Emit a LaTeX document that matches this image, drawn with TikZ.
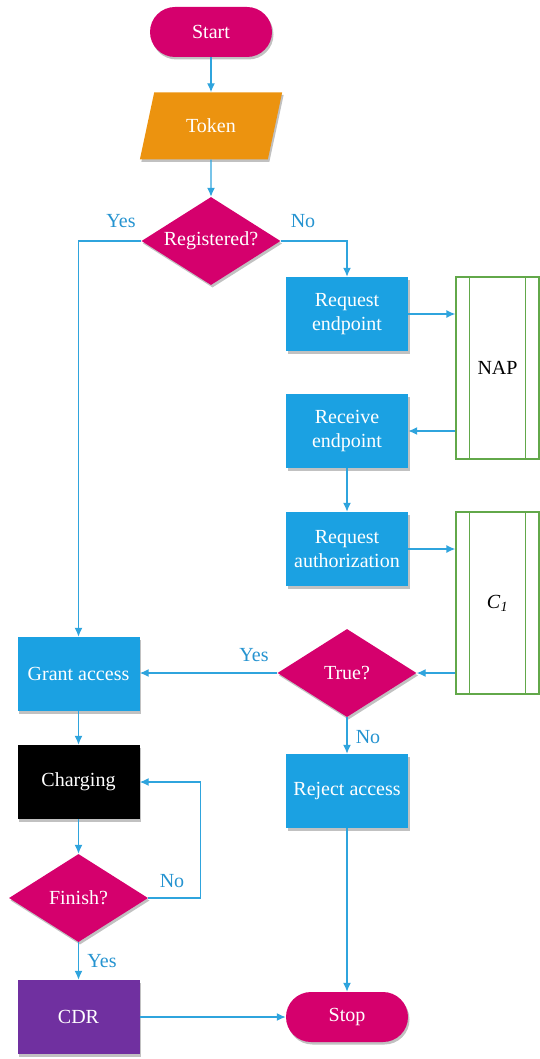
\documentclass[tikz,border=0pt]{standalone}
\usepackage{fontspec}
\setmainfont{Liberation Serif}
\usetikzlibrary{shapes.geometric,arrows.meta,shadows}

\definecolor{flowmag}{HTML}{D5006D}
\definecolor{flowblue}{HTML}{1BA1E2}
\definecolor{floworange}{HTML}{EC930F}
\definecolor{flowpurple}{HTML}{7030A0}
\definecolor{flowgreen}{HTML}{62A84A}
\definecolor{flowline}{HTML}{2FA4DD}
\definecolor{flowlabel}{HTML}{2593D0}

\begin{document}
\begin{tikzpicture}[x=1pt,y=-1pt,
  every node/.style={font=\fontsize{20}{24}\selectfont},
  shade/.style={drop shadow={shadow xshift=1.5pt,shadow yshift=-2.5pt,opacity=0.35,fill=black!70}},
  terminal/.style={rectangle, rounded corners=25pt, fill=flowmag, text=white,
    minimum width=122pt, minimum height=50pt, shade},
  procbox/.style={rectangle, fill=flowblue, text=white, minimum width=122pt,
    minimum height=74pt, align=center, inner sep=2pt, shade},
  decision/.style={diamond, fill=flowmag, text=white, aspect=1.58, inner sep=0pt,
    minimum width=139pt, minimum height=88pt, shade},
  iobox/.style={trapezium, trapezium left angle=66, trapezium right angle=114,
    trapezium stretches=true, fill=floworange, text=white, minimum width=143pt,
    minimum height=67pt, inner sep=0pt, shade},
  predef/.style={rectangle, draw=flowgreen, line width=1.2pt, fill=white,
    minimum width=83pt, minimum height=182pt},
  flow/.style={draw=flowline, line width=1.4pt, -{Latex[length=9pt,width=8pt]}},
  answer/.style={text=flowlabel}
]
\useasboundingbox (0,0) rectangle (540,1059);

% main column
\node[terminal] (start) at (211,32) {Start};
\node[iobox] (token) at (211,126) {Token};
\node[decision] (reg) at (211,241) {Registered?};

% right column
\node[procbox] (reqe) at (347,314) {Request\\endpoint};
\node[procbox] (rece) at (347,431) {Receive\\endpoint};
\node[procbox] (reqa) at (347,549) {Request\\authorization};
\node[decision] (true) at (347,673) {True?};
\node[procbox] (reject) at (347,791) {Reject access};
\node[terminal] (stop) at (347,1017) {Stop};

% left column
\node[procbox] (grant) at (78.5,674) {Grant access};
\node[procbox, fill=black] (charging) at (78.5,782) {Charging};
\node[decision] (finish) at (78.5,898) {Finish?};
\node[procbox, fill=flowpurple] (cdr) at (78.5,1017) {CDR};

% predefined processes
\node[predef] (nap) at (497.5,368) {};
\node[predef] (c1) at (497.5,603) {};
\foreach \p in {nap,c1}{
  \draw[flowgreen, line width=1.2pt] ([xshift=14pt]\p.north west) -- ([xshift=14pt]\p.south west);
  \draw[flowgreen, line width=1.2pt] ([xshift=-14pt]\p.north east) -- ([xshift=-14pt]\p.south east);
}
\node (naptext) at (nap) {NAP};
\node (c1text) at (c1) {\textit{C}\textsubscript{\textit{1}}};

% connectors
\draw[flow] (start) -- (token);
\draw[flow] (token) -- (reg);
\draw[flow] (reg.west) -| (grant.north);
\draw[flow] (reg.east) -| (reqe.north);
\draw[flow] (reqe.east) -- (reqe.east -| nap.west);
\draw[flow] (rece.east -| nap.west) -- (rece.east);
\draw[flow] (rece) -- (reqa);
\draw[flow] (reqa.east) -- (reqa.east -| c1.west);
\draw[flow] (true.east -| c1.west) -- (true.east);
\draw[flow] (true.west) -- (true.west -| grant.east);
\draw[flow] (true) -- (reject);
\draw[flow] (reject) -- (stop);
\draw[flow] (grant) -- (charging);
\draw[flow] (charging) -- (finish);
\draw[flow] (finish.east) -- ++(52,0) |- (charging.east);
\draw[flow] (finish) -- (cdr);
\draw[flow] (cdr.east) -- (cdr.east -| stop.west);

% branch labels
\node[answer] (yes1) at (121,221) {Yes};
\node[answer] (no1) at (303,221) {No};
\node[answer] (yes2) at (254,655) {Yes};
\node[answer] (no2) at (368,737) {No};
\node[answer] (no3) at (172,881) {No};
\node[answer] (yes3) at (102,961) {Yes};
\end{tikzpicture}
\end{document}
